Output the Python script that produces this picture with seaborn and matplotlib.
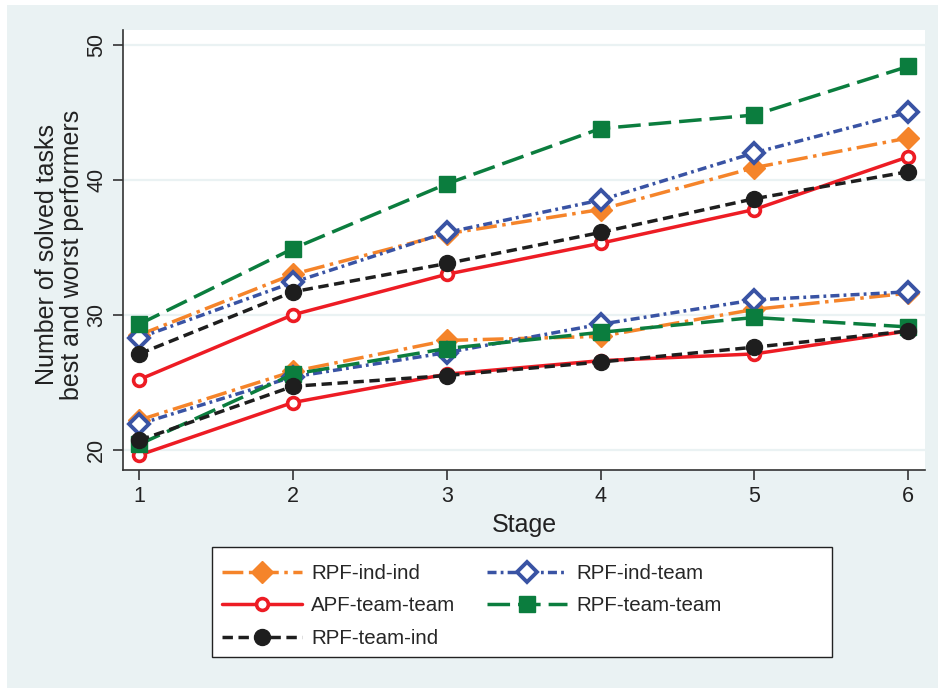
import matplotlib
matplotlib.use("Agg")
import matplotlib.pyplot as plt
import matplotlib.patches as mpatches
import pandas as pd
import seaborn as sns

# Data (best performers = upper group, worst = lower group)
stages = [1, 2, 3, 4, 5, 6]
ind_ind_best = [28.5, 33.0, 36.0, 37.8, 40.9, 43.1]
ind_ind_worst = [22.2, 25.8, 28.1, 28.4, 30.4, 31.6]
ind_team_best = [28.3, 32.4, 36.1, 38.5, 42.0, 45.0]
ind_team_worst = [21.9, 25.4, 27.2, 29.3, 31.1, 31.7]
apf_team_team_best = [25.2, 30.0, 33.0, 35.3, 37.8, 41.7]
apf_team_team_worst = [19.6, 23.5, 25.6, 26.6, 27.1, 28.8]
team_team_best = [29.3, 34.9, 39.7, 43.8, 44.8, 48.4]
team_team_worst = [20.4, 25.6, 27.5, 28.7, 29.8, 29.1]
team_ind_best = [27.1, 31.7, 33.8, 36.1, 38.6, 40.6]
team_ind_worst = [20.7, 24.7, 25.5, 26.5, 27.6, 28.8]

series_names = ["RPF-ind-ind", "RPF-ind-team", "APF-team-team", "RPF-team-team", "RPF-team-ind"]
best = [ind_ind_best, ind_team_best, apf_team_team_best, team_team_best, team_ind_best]
worst = [ind_ind_worst, ind_team_worst, apf_team_team_worst, team_team_worst, team_ind_worst]

bg = "#EAF2F3"
styles = {
    "RPF-ind-ind": dict(color="#F5842A", marker="D", ms=11, mfc="#F5842A", mec="#F5842A", mew=1,
                        dashes=(6, 1.6, 1, 1.6)),
    "RPF-ind-team": dict(color="#3953A4", marker="D", ms=10, mfc="white", mec="#3953A4", mew=2.8,
                         dashes=(2.6, 1.2, 0.8, 1.2)),
    "APF-team-team": dict(color="#ED1C24", marker="o", ms=8.5, mfc="white", mec="#ED1C24", mew=2.6,
                          dashes=None),
    "RPF-team-team": dict(color="#0B7D3E", marker="s", ms=11, mfc="#0B7D3E", mec="#0B7D3E", mew=1,
                          dashes=(6.5, 2.3)),
    "RPF-team-ind": dict(color="#1E1E1E", marker="o", ms=11.5, mfc="#1E1E1E", mec="#1E1E1E", mew=1,
                         dashes=(3, 1.6)),
}

sns.set_style("white")
plt.rcParams["font.family"] = ["Liberation Sans", "DejaVu Sans"]

fig = plt.figure(figsize=(9.38, 6.88), dpi=100)
fig.patch.set_facecolor("white")
fig.patches.append(mpatches.Rectangle((7 / 938, 0), 1, 1 - 5 / 688, transform=fig.transFigure,
                                      facecolor=bg, edgecolor="none", zorder=-10))
ax = fig.add_axes([123 / 938, 1 - 470 / 688, (925 - 123) / 938, (470 - 30) / 688])
ax.set_facecolor("white")

handles = []
for name, b, w in zip(series_names, best, worst):
    st = styles[name]
    for vals in (b, w):
        df = pd.DataFrame({"Stage": stages, "val": vals})
        sns.lineplot(data=df, x="Stage", y="val", ax=ax, color=st["color"], lw=2.5,
                     marker=st["marker"], markersize=st["ms"], markerfacecolor=st["mfc"],
                     markeredgecolor=st["mec"], markeredgewidth=st["mew"])
        line = ax.lines[-1]
        if st["dashes"] is not None:
            line.set_dashes(st["dashes"])
    handles.append(ax.lines[-1])

ax.set_xlim(0.895, 6.11)
ax.set_ylim(18.5, 51.1)
ax.set_xticks(stages)
ax.set_yticks([20, 30, 40, 50])
ax.yaxis.grid(True, color=bg, lw=1.6)
ax.set_axisbelow(True)
for s in ["top", "right"]:
    ax.spines[s].set_visible(False)
for s in ["left", "bottom"]:
    ax.spines[s].set_color("#333333")
    ax.spines[s].set_linewidth(1.2)
ax.tick_params(axis="both", direction="out", length=7.5, width=1.2, color="#333333",
               labelsize=15.5, labelcolor="#222222", left=True, bottom=True)
ax.tick_params(axis="x", pad=4)
ax.tick_params(axis="y", pad=4)
for lbl in ax.get_yticklabels():
    lbl.set_rotation(90)
    lbl.set_va("center")
ax.set_xlabel("Stage", fontsize=18, color="#222222", labelpad=4)
ax.set_ylabel("Number of solved tasks\nbest and worst performers", fontsize=18,
              color="#222222", linespacing=1.05)
ax.yaxis.set_label_coords(-0.049, 0.49)

# legend entries without frame, frame drawn as a box like the reference
order = [0, 2, 4, 1, 3]
leg = fig.legend([handles[i] for i in order], [series_names[i] for i in order],
                 loc="upper left", bbox_to_anchor=(222 / 938, 1 - 564 / 688), ncol=2,
                 fontsize=14.8, handlelength=3.9, handletextpad=0.45, columnspacing=1.5,
                 labelspacing=0.65, frameon=False, borderpad=0, borderaxespad=0)
fig.patches.append(mpatches.Rectangle((212 / 938, 1 - 657 / 688), 620 / 938, 110 / 688,
                                      transform=fig.transFigure, facecolor="white",
                                      edgecolor="#222222", lw=1.0, zorder=-5))

fig.savefig("out.png", dpi=100)
